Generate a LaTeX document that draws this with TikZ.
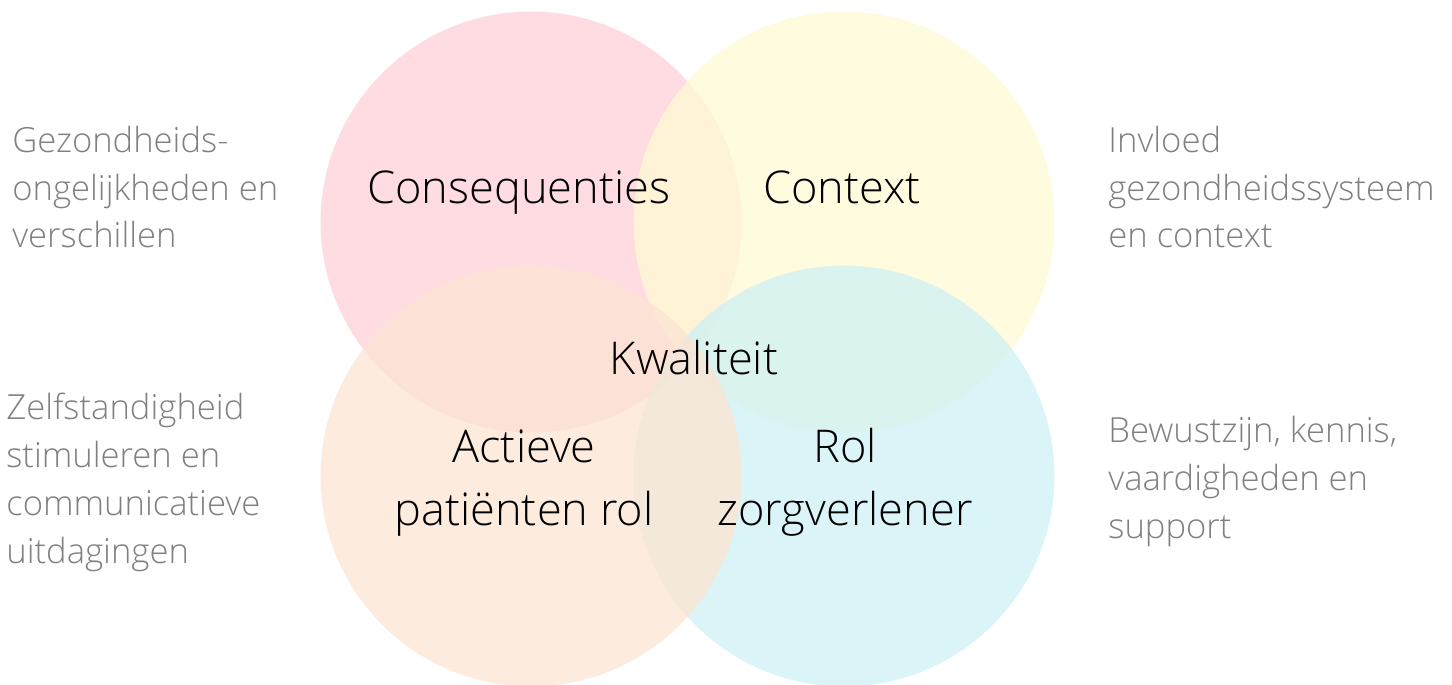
\documentclass[tikz,border=0pt]{standalone}
\usepackage{fontspec}
\setmainfont{Open Sans Light}
\definecolor{roze}{RGB}{254,208,216}
\definecolor{geel}{RGB}{254,250,211}
\definecolor{perzik}{RGB}{252,228,210}
\definecolor{blauw}{RGB}{206,240,244}
\definecolor{grijs}{RGB}{128,128,128}
\begin{document}
\begin{tikzpicture}
  [x=0.02cm,y=-0.02cm,
   every node/.style={inner sep=0pt},
   bol/.style={circle,minimum size=8.42cm,fill opacity=0.75},
   kern/.style={anchor=base,align=center,font=\fontsize{25.7}{35.8}\selectfont},
   zij/.style={anchor=base west,align=left,text=grijs,font=\fontsize{19.7}{27.3}\selectfont}]
  \useasboundingbox (0,0) rectangle (1452,685);
  \node[bol,fill=roze] (c1) at (531,222) {};
  \node[bol,fill=geel] (c2) at (844,222) {};
  \node[bol,fill=blauw] (c4) at (844,476) {};
  \node[bol,fill=perzik] (c3) at (531,476) {};

  \node[kern] (t1) at (519,204) {Consequenties};
  \node[kern] (t2) at (842,204) {Context};
  \node[kern] (t3) at (694,375) {Kwaliteit};
  \node[kern] (t4) at (524,525) {Actieve\\pati\"enten rol};
  \node[kern] (t5) at (845,525) {Rol\\zorgverlener};

  \node[zij] (l1) at (12,248) {Gezondheids-\\ongelijkheden en\\verschillen};
  \node[zij] (l2) at (6,563) {Zelfstandigheid\\stimuleren en\\communicatieve\\uitdagingen};
  \node[zij] (r1) at (1108,248) {Invloed\\gezondheidssysteem\\en context};
  \node[zij] (r2) at (1108,538) {Bewustzijn, kennis,\\vaardigheden en\\support};
\end{tikzpicture}
\end{document}
